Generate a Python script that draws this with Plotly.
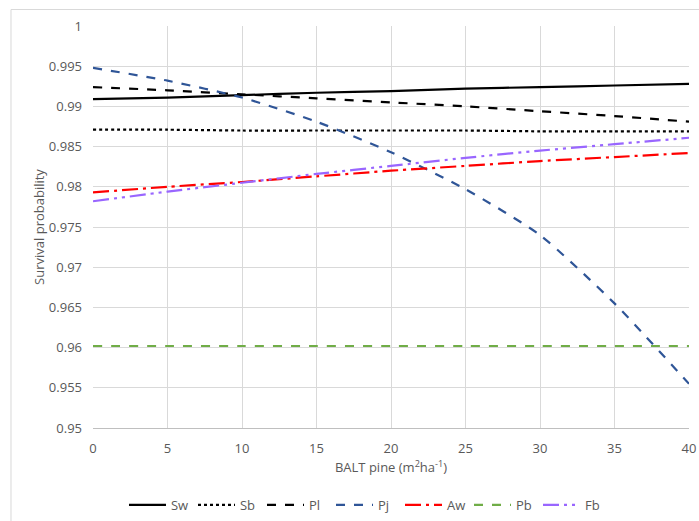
import plotly.graph_objects as go

ba = [0, 5, 10, 15, 20, 25, 30, 35, 40]
sw = [0.9909, 0.9911, 0.9914, 0.9917, 0.9919, 0.9922, 0.9924, 0.9926, 0.9928]
sb = [0.9871, 0.9871, 0.9870, 0.9870, 0.9870, 0.9870, 0.9869, 0.9869, 0.9869]
pl = [0.9924, 0.9920, 0.9915, 0.9910, 0.9905, 0.9900, 0.9894, 0.9888, 0.9881]
pj = [0.9948, 0.9932, 0.9911, 0.9881, 0.9843, 0.9797, 0.9740, 0.9655, 0.9555]
aw = [0.9793, 0.9800, 0.9806, 0.9813, 0.9820, 0.9826, 0.9832, 0.9837, 0.9842]
pb = [0.9602, 0.9602, 0.9602, 0.9602, 0.9602, 0.9602, 0.9602, 0.9602, 0.9602]
fb = [0.9782, 0.9794, 0.9805, 0.9816, 0.9826, 0.9836, 0.9845, 0.9853, 0.9861]

x_ticks = [0, 5, 10, 15, 20, 25, 30, 35, 40]
y_ticks = [0.95, 0.955, 0.96, 0.965, 0.97, 0.975, 0.98, 0.985, 0.99, 0.995, 1.0]
y_labels = ["0.95", "0.955", "0.96", "0.965", "0.97", "0.975", "0.98", "0.985", "0.99", "0.995", "1"]

series = [
    ("Sw", sw, "#000000", "solid"),
    ("Sb", sb, "#000000", "dot"),
    ("Pl", pl, "#000000", "dash"),
    ("Pj", pj, "#2F5597", "dash"),
    ("Aw", aw, "#FF0000", "16px,5px,3px,5px"),
    ("Pb", pb, "#70AD47", "dash"),
    ("Fb", fb, "#9966FF", "16px,5px,3px,5px,3px,5px"),
]

fig = go.Figure()
for name, ys, col, dash in series:
    fig.add_trace(go.Scatter(
        x=ba, y=ys, name=name, mode="lines",
        line=dict(color=col, width=2.2, dash=dash, shape="spline", smoothing=0.6),
    ))

font_color = "#595959"
fig.update_layout(
    width=699, height=521,
    margin=dict(l=93, r=10, t=26, b=93, autoexpand=False),
    paper_bgcolor="white", plot_bgcolor="white",
    font=dict(family="Open Sans, Liberation Sans, sans-serif", size=13, color=font_color),
    showlegend=True,
    legend=dict(orientation="h", x=0.052, xanchor="left", xref="paper",
                y=0.031, yanchor="middle", yref="container",
                itemwidth=37, entrywidth=17, entrywidthmode="pixels",
                font=dict(size=13, color=font_color), tracegroupgap=0),
    xaxis=dict(
        range=[0, 40], tickvals=x_ticks, ticktext=[str(v) for v in x_ticks],
        showgrid=True, gridcolor="#D9D9D9", gridwidth=1,
        showline=True, linecolor="#BFBFBF", linewidth=1,
        zeroline=False, ticks="", ticklabelstandoff=8, automargin=False,
        tickfont=dict(size=13, color=font_color),
        title=dict(text="BALT pine (m<sup>2</sup>ha<sup>-1</sup>)", font=dict(size=13, color=font_color), standoff=7),
    ),
    yaxis=dict(
        range=[0.95, 1.0], tickvals=y_ticks, ticktext=y_labels,
        showgrid=True, gridcolor="#D9D9D9", gridwidth=1,
        showline=False, zeroline=False, ticks="", ticklabelstandoff=10, automargin=False,
        tickfont=dict(size=13, color=font_color),
        title=dict(text="Survival probability", font=dict(size=13, color=font_color), standoff=1),
    ),
    shapes=[dict(type="rect", xref="paper", yref="paper",
                 x0=-0.1376, x1=1.2, y0=-0.4, y1=1.041,
                 line=dict(color="#D9D9D9", width=1), fillcolor="rgba(0,0,0,0)", layer="below")],
)

fig.write_html("out.html", config={"displayModeBar": False},
               post_script="document.body.style.margin='0';document.body.style.overflow='hidden';")
